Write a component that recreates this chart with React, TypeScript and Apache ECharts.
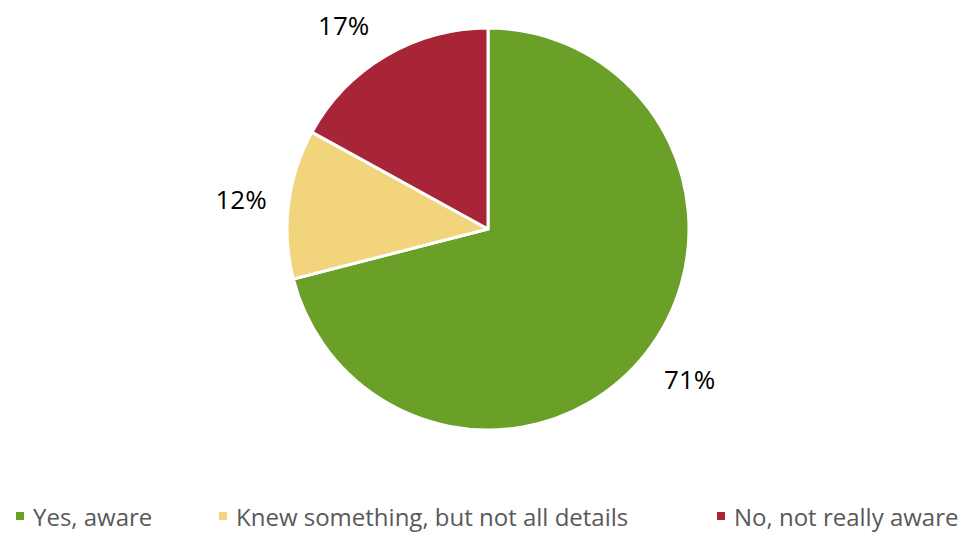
import React, { useEffect, useRef } from "react";
import * as echarts from "echarts";

const categories = ["Yes, aware", "Knew something, but not all details", "No, not really aware"];
const values = [71, 12, 17];
const colors = ["#6a9f28", "#f2d47c", "#a72537"];
const legendLefts = [14, 217, 715];
const labelOffsets = [[1, -6], [5, 2], [-15, 15]];

export default function App() {
  const ref = useRef<HTMLDivElement>(null);
  useEffect(() => {
    document.body.style.margin = "0";
    const chart = echarts.init(ref.current!, null, { renderer: "svg" });
    const data = categories.map((name, i) => ({ name, value: values[i], itemStyle: { color: colors[i] } }));
    const font = "'Open Sans', 'Liberation Sans', sans-serif";
    chart.setOption({
      animation: false,
      backgroundColor: "#ffffff",
      legend: categories.map((name, i) => ({
        left: legendLefts[i],
        top: 504,
        padding: 0,
        icon: "rect",
        itemWidth: 10,
        itemHeight: 10,
        selectedMode: false,
        data: [{ name, itemStyle: { color: colors[i] } }],
        textStyle: { fontFamily: font, fontSize: 24, lineHeight: 24, color: "#595959", padding: [0, 0, 0, 3] },
      })),
      series: [
        {
          type: "pie",
          center: [488, 229],
          radius: 201,
          startAngle: 90,
          clockwise: true,
          label: { show: false },
          labelLine: { show: false },
          emphasis: { disabled: true },
          itemStyle: { borderColor: "#ffffff", borderWidth: 3 },
          data,
        },
        {
          type: "pie",
          center: [488, 229],
          radius: [201, 301],
          startAngle: 90,
          clockwise: true,
          silent: true,
          legendHoverLink: false,
          emphasis: { disabled: true },
          itemStyle: { color: "transparent", borderWidth: 0 },
          label: {
            show: true,
            position: "inside",
            formatter: (p: any) => `${p.value}%`,
            fontFamily: font,
            fontSize: 26,
            color: "#000000",
          },
          labelLine: { show: false },
          data: categories.map((name, i) => ({
            name,
            value: values[i],
            itemStyle: { color: "transparent" },
            label: { offset: labelOffsets[i] },
          })),
        },
      ],
    });
    return () => chart.dispose();
  }, []);
  return <div ref={ref} style={{ width: 979, height: 533 }} />;
}
